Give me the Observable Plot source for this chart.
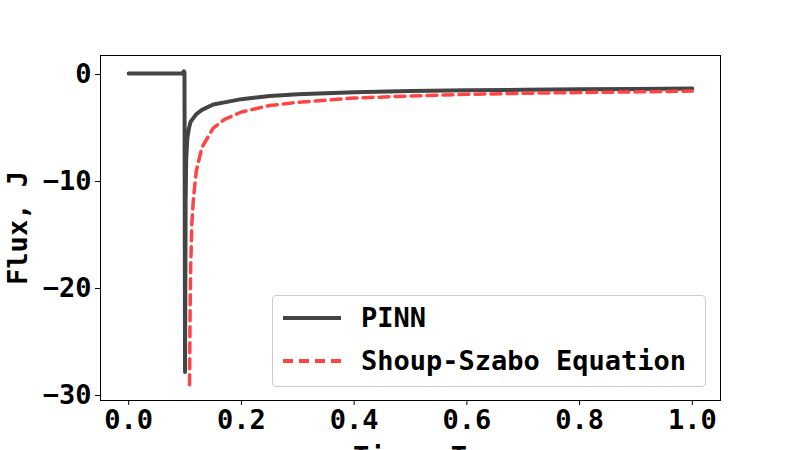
<!DOCTYPE html>
<html><head>
<script src="https://cdn.jsdelivr.net/npm/d3@7"></script>
<script src="https://cdn.jsdelivr.net/npm/@observablehq/plot@0.6"></script>
<style>
body{margin:0;background:#fff;overflow:hidden}
#chart{position:relative;width:800px;height:450px;font-family:"DejaVu Sans Mono",monospace;font-weight:bold}
.legend{position:absolute;left:272px;top:295px;width:432px;height:90px;border:1px solid #ccc;border-radius:4px;background:rgba(255,255,255,0.8);font-size:27px}
.legend div{position:absolute;left:10px;display:flex;align-items:center}
</style>
</head><body>
<div id="chart"></div>
<script>
const pinnT = [0,0.05,0.095,0.098,0.099,0.1,0.1005,0.101,0.102,0.104,0.107,0.11,0.12,0.13,0.15,0.17,0.2,0.25,0.3,0.4,0.5,0.6,0.7,0.8,0.9,1.0];
const pinnJ = [0.1,0.1,0.1,0.3,0.2,-27.8,-20,-12,-8,-6,-5,-4.4,-3.7,-3.3,-2.8,-2.6,-2.3,-2.0,-1.85,-1.65,-1.55,-1.48,-1.42,-1.38,-1.34,-1.3];
const ssT = [0.108,0.109,0.11,0.112,0.115,0.12,0.13,0.15,0.17,0.2,0.25,0.3,0.4,0.5,0.6,0.7,0.8,0.9,1.0];
const ssJ = [-29,-22,-18,-14,-11.5,-9,-6.8,-5,-4.2,-3.5,-2.9,-2.6,-2.2,-2.0,-1.85,-1.75,-1.68,-1.62,-1.55];
const xTicks = [0,0.2,0.4,0.6,0.8,1.0];
const yTicks = [0,-10,-20,-30];
const names = ['PINN','Shoup-Szabo Equation'];

const pinn = pinnT.map((t,i) => ({t, j: pinnJ[i]}));
const ss = ssT.map((t,i) => ({t, j: ssJ[i]}));

const chart = Plot.plot({
  width: 800, height: 450,
  marginLeft: 100, marginRight: 80, marginTop: 55, marginBottom: 50,
  style: {fontFamily: '"DejaVu Sans Mono", monospace', fontSize: '27px', fontWeight: 'bold', color: '#000', overflow: 'visible'},
  x: {domain: [-0.05, 1.05], ticks: xTicks, tickFormat: d3.format('.1f'), label: null, tickSize: 5},
  y: {domain: [-30.47, 1.78], ticks: yTicks, tickFormat: d => d < 0 ? '\u2212' + (-d) : d, label: null, tickSize: 5},
  marks: [
    Plot.frame({stroke: '#000'}),
    Plot.line(pinn, {x: 't', y: 'j', stroke: '#444', strokeWidth: 4}),
    Plot.line(ss, {x: 't', y: 'j', stroke: '#ff4444', strokeWidth: 3.5, strokeDasharray: '10,6'})
  ]
});
const svg = d3.select(chart);
svg.append('text').attr('x', 410).attr('y', 466).attr('text-anchor', 'middle')
  .attr('font-size', 27).attr('font-weight', 'bold').text('Time, T');
svg.append('text').attr('transform', 'translate(27,228) rotate(-90)').attr('text-anchor', 'middle')
  .attr('font-size', 27).attr('font-weight', 'bold').text('Flux, J');
const wrap = d3.select('#chart');
wrap.append(() => chart);
const lg = wrap.append('div').attr('class', 'legend');
const styles = [['#444', 'none'], ['#ff4444', '10,6']];
names.forEach((n, i) => {
  const row = lg.append('div').style('top', (6 + i * 43) + 'px');
  row.append('svg').attr('width', 60).attr('height', 20).append('line')
    .attr('x1', 0).attr('x2', 58).attr('y1', 10).attr('y2', 10)
    .attr('stroke', styles[i][0]).attr('stroke-width', 4).attr('stroke-dasharray', styles[i][1]);
  row.append('span').style('margin-left', '18px').text(n);
});
</script>
</body></html>
